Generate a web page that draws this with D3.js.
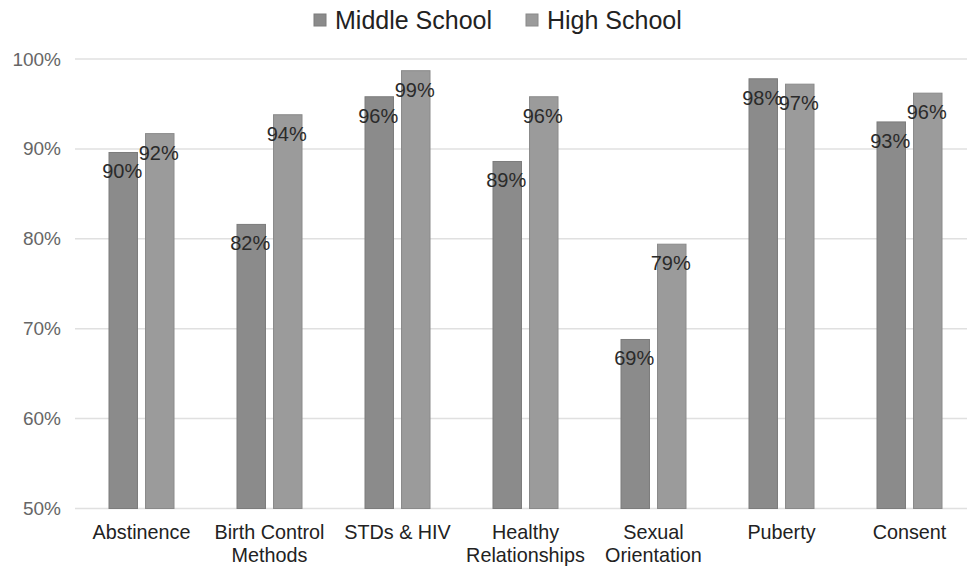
<!DOCTYPE html>
<html>
<head>
<meta charset="utf-8">
<script src="https://cdn.jsdelivr.net/npm/d3@7/dist/d3.min.js"></script>
<style>
  html, body { margin: 0; padding: 0; background: #fff; }
  svg { display: block; font-family: "Liberation Sans", Arial, sans-serif; }
</style>
</head>
<body>
<svg id="chart" width="967" height="567"></svg>
<script>
// Topics and their two-line axis labels
const categories = ["Abstinence", "Birth Control Methods", "STDs & HIV", "Healthy Relationships", "Sexual Orientation", "Puberty", "Consent"];
const categoryLines = [["Abstinence"], ["Birth Control", "Methods"], ["STDs & HIV"], ["Healthy", "Relationships"], ["Sexual", "Orientation"], ["Puberty"], ["Consent"]];
const series = ["Middle School", "High School"];
// Share of respondents (%) per topic
const middleSchool = [89.6, 81.6, 95.8, 88.6, 68.8, 97.8, 93.0];
const highSchool = [91.7, 93.8, 98.7, 95.8, 79.4, 97.2, 96.2];
const yTicks = [50, 60, 70, 80, 90, 100];

const seriesValues = [middleSchool, highSchool];
const colors = ["#8b8b8b", "#9b9b9b"];
const strokes = ["#7c7c7c", "#8a8a8a"];

const svg = d3.select("#chart");
const W = 967, H = 567;
const plot = { left: 77.5, right: 973.5, top: 59, bottom: 508.5 };

const x0 = d3.scaleBand().domain(categories).range([plot.left, plot.right]).padding(0);
const x1 = d3.scaleBand().domain(series).range([31.5, 96.5]).paddingInner(0.22).paddingOuter(0);
const y = d3.scaleLinear().domain([50, 100]).range([plot.bottom, plot.top]);

// Horizontal gridlines
svg.append("g")
  .selectAll("line")
  .data(yTicks)
  .join("line")
  .attr("x1", 75).attr("x2", W)
  .attr("y1", d => y(d)).attr("y2", d => y(d))
  .attr("stroke", "#e0e0e0").attr("stroke-width", 1.5);

// Y axis labels
const yAxis = d3.axisLeft(y).tickValues(yTicks).tickFormat(d => d + "%").tickSize(0).tickPadding(0);
const yg = svg.append("g").attr("transform", "translate(61,0)").call(yAxis);
yg.select(".domain").remove();
yg.selectAll("text").attr("font-size", 19).attr("fill", "#666").attr("font-family", "Liberation Sans, Arial, sans-serif");

// Bars
const groups = svg.append("g")
  .selectAll("g")
  .data(categories)
  .join("g")
  .attr("transform", d => `translate(${x0(d)},0)`);

groups.selectAll("rect")
  .data((d, i) => series.map((s, k) => ({ s, k, v: seriesValues[k][i] })))
  .join("rect")
  .attr("x", d => x1(d.s))
  .attr("width", x1.bandwidth())
  .attr("y", d => y(d.v))
  .attr("height", d => y(50) - y(d.v))
  .attr("fill", d => colors[d.k])
  .attr("stroke", d => strokes[d.k])
  .attr("stroke-width", 1);

// Value labels
groups.selectAll("text.val")
  .data((d, i) => series.map((s, k) => ({ s, k, v: seriesValues[k][i] })))
  .join("text")
  .attr("class", "val")
  .attr("x", d => x1(d.s) + x1.bandwidth() / 2 - 1)
  .attr("y", d => y(d.v) + 19)
  .attr("text-anchor", "middle")
  .attr("dominant-baseline", "central")
  .attr("font-size", 20)
  .attr("fill", "#2a2a2a")
  .text(d => Math.round(d.v) + "%");

// Category labels
const xg = svg.append("g");
categories.forEach((c, i) => {
  const t = xg.append("text")
    .attr("x", x0(c) + x0.bandwidth() / 2)
    .attr("y", 539)
    .attr("text-anchor", "middle")
    .attr("font-size", 19.8)
    .attr("fill", "#222");
  categoryLines[i].forEach((line, j) => {
    t.append("tspan").attr("x", x0(c) + x0.bandwidth() / 2).attr("dy", j === 0 ? 0 : 23).text(line);
  });
});

// Legend
const legendItems = [{ label: series[0], x: 314 }, { label: series[1], x: 526 }];
const lg = svg.append("g");
legendItems.forEach((it, k) => {
  lg.append("rect").attr("x", it.x).attr("y", 14).attr("width", 12).attr("height", 12)
    .attr("fill", colors[k]).attr("stroke", strokes[k]);
  lg.append("text").attr("x", it.x + 21).attr("y", 29)
    .attr("font-size", 25).attr("fill", "#222").text(it.label);
});
</script>
</body>
</html>
